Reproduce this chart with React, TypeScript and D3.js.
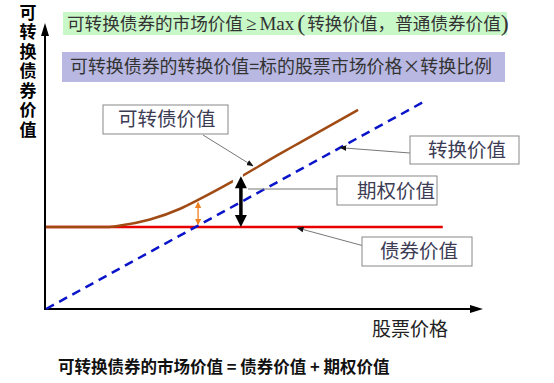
import React from "react";
import * as d3 from "d3";

// stock price (x) vs value (y), abstract units 0..100
const conversionValue = [
  { p: 0, v: 0 },
  { p: 87.2, v: 73.6 },
];
const bondValue = [
  { p: 0, v: 28.9 },
  { p: 90.8, v: 28.9 },
];
const cbValue = [
  { p: 0, v: 28.9 },
  { p: 14, v: 28.9 },
  { p: 17, v: 29.4 },
  { p: 23.8, v: 31.5 },
  { p: 30.7, v: 35.3 },
  { p: 34.8, v: 38.4 },
  { p: 42.8, v: 45.0 },
  { p: 53.5, v: 54.6 },
  { p: 58.1, v: 58.6 },
  { p: 71.4, v: 70.1 },
];
const optionArrow = { p: 44.6, from: 28.9, to: 46.7 };
const smallArrow = { p: 34.8, from: 28.9, to: 38.4 };

const yTitle = "可转换债券价值";
const xTitle = "股票价格";
const formulaTop = ["可转换债券的市场价值", "≥", "Max", "(", "转换价值，普通债券价值", ")"];
const formulaMid = "可转换债券的转换价值=标的股票市场价格×转换比例";
const formulaBottom = "可转换债券的市场价值 = 债券价值 + 期权价值";
const labels = { cb: "可转债价值", conv: "转换价值", option: "期权价值", bond: "债券价值" };

const W = 554;
const H = 383;
const cjk = "'Noto Sans CJK SC', 'Noto Sans', sans-serif";
const serif = "'Liberation Serif', serif";

export default function App() {
  const x = d3.scaleLinear().domain([0, 100]).range([46, 483]);
  const y = d3.scaleLinear().domain([0, 100]).range([309, 25]);

  const line = d3
    .line<{ p: number; v: number }>()
    .x((d) => x(d.p))
    .y((d) => y(d.v));
  const curve = d3
    .line<{ p: number; v: number }>()
    .x((d) => x(d.p))
    .y((d) => y(d.v))
    .curve(d3.curveMonotoneX);

  const convAt = (p: number) => {
    const [a, b] = conversionValue;
    return a.v + ((b.v - a.v) * (p - a.p)) / (b.p - a.p);
  };

  const ox = x(optionArrow.p);
  const sx = x(smallArrow.p);

  return (
    <svg
      width={W}
      height={H}
      style={{ position: "absolute", left: 0, top: 0, background: "#fff" }}
    >
      <defs>
        <marker id="lead" viewBox="0 0 10 10" refX="9" refY="5" markerWidth="7" markerHeight="7" orient="auto">
          <path d="M0,1 L10,5 L0,9 z" fill="#111" />
        </marker>
        <marker id="orng" viewBox="0 0 10 10" refX="8" refY="5" markerWidth="5" markerHeight="5" orient="auto-start-reverse">
          <path d="M0,0 L10,5 L0,10 z" fill="#f08020" />
        </marker>
        <mask id="gap">
          <rect x={0} y={0} width={W} height={H} fill="#fff" />
          <rect x={ox - 8} y={y(optionArrow.to) - 12} width={10} height={20} fill="#000" />
        </mask>
      </defs>

      {/* formula boxes */}
      <rect x={63} y={12} width={444} height={23} fill="#c8f7c8" />
      <text x={67} y={30} fontSize={17.6} fill="#333" fontFamily={cjk}>
        <tspan>{formulaTop[0]}</tspan>
        <tspan fontFamily={serif} fontSize={19} dx={3}>{formulaTop[1]}</tspan>
        <tspan fontFamily={serif} fontSize={19} dx={3}>{formulaTop[2]}</tspan>
        <tspan fontFamily={serif} fontSize={24} dx={3} dy={1}>{formulaTop[3]}</tspan>
        <tspan dx={2} dy={-1}>{formulaTop[4]}</tspan>
        <tspan fontFamily={serif} fontSize={24} dy={1}>{formulaTop[5]}</tspan>
      </text>
      <rect x={62} y={52} width={443} height={30} fill="#b8b8e2" />
      <text x={70} y={73} fontSize={18} fill="#333" fontFamily={cjk} textLength={422} lengthAdjust="spacingAndGlyphs">
        {formulaMid}
      </text>

      {/* y title, vertical */}
      <text
        x={28}
        y={4}
        fontSize={17}
        fontWeight="bold"
        fontFamily={cjk}
        style={{ writingMode: "vertical-rl", letterSpacing: "2.5px" }}
      >
        {yTitle}
      </text>

      {/* axes */}
      <line x1={x(0) - 1} y1={y(0)} x2={x(0) - 1} y2={34} stroke="#000" strokeWidth={2} />
      <path d={`M${x(0) - 1},23 L${x(0) + 3},36 L${x(0) - 5},36 z`} fill="#000" />
      <line x1={x(0) - 2} y1={y(0)} x2={472} y2={y(0)} stroke="#000" strokeWidth={2} />
      <path d={`M483,${y(0)} L470,${y(0) - 4} L470,${y(0) + 4} z`} fill="#000" />
      <text x={372} y={336} fontSize={19} fill="#222" fontFamily={cjk}>
        {xTitle}
      </text>

      {/* series */}
      <path d={line(bondValue) || ""} fill="none" stroke="#e80000" strokeWidth={2.5} />
      <path d={line(conversionValue) || ""} fill="none" stroke="#0a14c8" strokeWidth={2.5} strokeDasharray="9,6" />
      <path d={curve(cbValue) || ""} fill="none" stroke="#a04a14" strokeWidth={2.5} mask="url(#gap)" />

      {/* option value arrows */}
      <line x1={sx} y1={y(smallArrow.from) - 3} x2={sx} y2={y(smallArrow.to) + 3} stroke="#f08020" strokeWidth={1.3}
        markerStart="url(#orng)" markerEnd="url(#orng)" />
      <line x1={ox} y1={y(optionArrow.from) - 9} x2={ox} y2={y(optionArrow.to) + 9} stroke="#000" strokeWidth={3.5} />
      <path d={`M${ox},${y(optionArrow.to)} L${ox + 6},${y(optionArrow.to) + 12} L${ox - 6},${y(optionArrow.to) + 12} z`} fill="#000" />
      <path d={`M${ox},${y(optionArrow.from)} L${ox + 6},${y(optionArrow.from) - 12} L${ox - 6},${y(optionArrow.from) - 12} z`} fill="#000" />

      {/* leaders */}
      <line x1={203} y1={135} x2={253} y2={166} stroke="#777" strokeWidth={1} markerEnd="url(#lead)" />
      <line x1={410} y1={153} x2={x(67.3)} y2={y(convAt(67.3))} stroke="#777" strokeWidth={1} markerEnd="url(#lead)" />
      <line x1={337} y1={189} x2={248} y2={189} stroke="#777" strokeWidth={1} />
      <line x1={364} y1={246} x2={x(57.5)} y2={y(28.9) + 1} stroke="#777" strokeWidth={1} markerEnd="url(#lead)" />

      {/* label boxes */}
      <rect x={103} y={105} width={125} height={29} fill="#fff" stroke="#888" strokeWidth={1} />
      <text x={118} y={126} fontSize={19.5} fill="#3c3c55" fontFamily={cjk}>{labels.cb}</text>
      <rect x={410} y={136} width={109} height={28} fill="#fff" stroke="#888" strokeWidth={1} />
      <text x={428} y={157} fontSize={19.5} fill="#3c3c55" fontFamily={cjk}>{labels.conv}</text>
      <rect x={337} y={176} width={100} height={29} fill="#fff" stroke="#888" strokeWidth={1} />
      <text x={357} y={198} fontSize={19.5} fill="#3c3c55" fontFamily={cjk}>{labels.option}</text>
      <rect x={362} y={237} width={110} height={29} fill="#fff" stroke="#888" strokeWidth={1} />
      <text x={380} y={258} fontSize={19.5} fill="#3c3c55" fontFamily={cjk}>{labels.bond}</text>

      {/* bottom formula */}
      <text x={58} y={373} fontSize={16.5} fontWeight="bold" fill="#111" fontFamily={cjk}>
        {formulaBottom}
      </text>
    </svg>
  );
}
